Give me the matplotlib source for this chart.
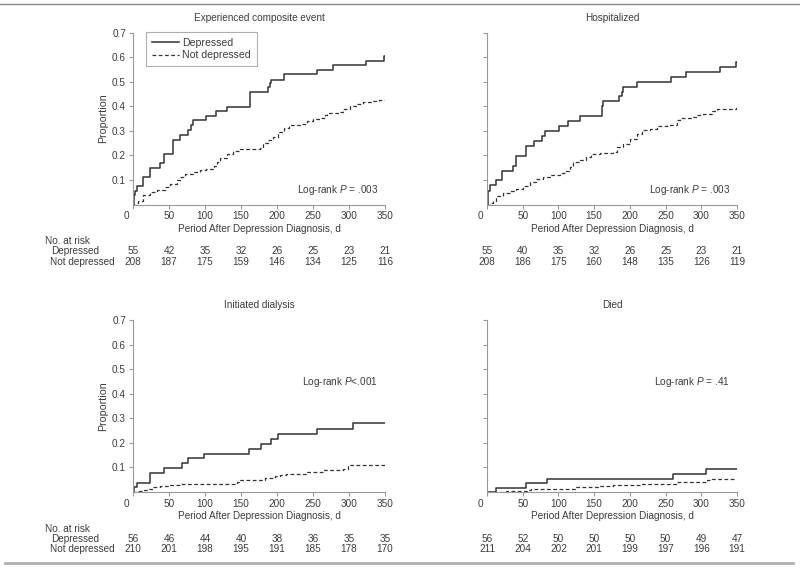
import matplotlib
matplotlib.use("Agg")
import matplotlib.pyplot as plt
import matplotlib.transforms as mtransforms
from matplotlib.lines import Line2D

plt.rcParams['font.family'] = ['Liberation Sans', 'DejaVu Sans']
plt.rcParams['mathtext.fontset'] = 'custom'
plt.rcParams['mathtext.rm'] = 'Liberation Sans'
plt.rcParams['mathtext.it'] = 'Liberation Sans:italic'

# Kaplan-Meier style cumulative proportions
comp_dep_t = [0, 1, 3, 6, 14, 23, 38, 43, 55, 65, 77, 81, 84, 102, 115, 131, 162, 163, 188, 190, 192, 210, 256, 278, 324, 348, 350]
comp_dep_p = [0, 0.037, 0.057, 0.075, 0.112, 0.150, 0.170, 0.207, 0.264, 0.285, 0.302, 0.323, 0.343, 0.360, 0.380, 0.398, 0.418, 0.458, 0.479, 0.496, 0.509, 0.530, 0.547, 0.568, 0.586, 0.605, 0.605]
comp_nd_t = [0, 5, 7, 14, 24, 33, 44, 51, 61, 65, 72, 84, 93, 102, 112, 116, 121, 130, 139, 149,
             160, 176, 181, 188, 195, 202, 210, 216, 232, 241, 250, 260, 267, 269, 288, 292, 301, 311, 320, 334, 341, 350]
comp_nd_p = [0, 0.005, 0.016, 0.037, 0.05, 0.06, 0.071, 0.084, 0.10, 0.112, 0.123, 0.131, 0.139, 0.146, 0.157, 0.173, 0.19, 0.204, 0.218, 0.225,
             0.227, 0.232, 0.25, 0.261, 0.275, 0.296, 0.313, 0.323, 0.327, 0.34, 0.347, 0.354, 0.364, 0.373, 0.376, 0.391, 0.40, 0.411, 0.419, 0.422, 0.425, 0.425]

hosp_dep_t = [0, 1, 2, 4, 13, 21, 37, 41, 54, 66, 77, 81, 101, 114, 130, 161, 163, 185, 189, 191, 210, 258, 279, 326, 348, 350]
hosp_dep_p = [0, 0.037, 0.057, 0.078, 0.098, 0.136, 0.157, 0.197, 0.238, 0.259, 0.279, 0.298, 0.319, 0.339, 0.36, 0.40, 0.422, 0.441, 0.459, 0.479, 0.50, 0.52, 0.541, 0.561, 0.581, 0.581]
hosp_nd_t = [0, 4, 8, 13, 22, 32, 41, 50, 60, 69, 79, 88, 102, 111, 116, 121, 130, 139, 146, 158,
             177, 182, 191, 200, 210, 217, 228, 238, 252, 266, 270, 287, 294, 303, 315, 322, 336, 348, 350]
hosp_nd_p = [0, 0.005, 0.016, 0.033, 0.046, 0.054, 0.064, 0.075, 0.091, 0.105, 0.112, 0.121, 0.129, 0.136, 0.153, 0.173, 0.182, 0.193, 0.204, 0.21,
             0.214, 0.234, 0.248, 0.268, 0.289, 0.302, 0.309, 0.319, 0.325, 0.343, 0.353, 0.357, 0.364, 0.37, 0.381, 0.388, 0.391, 0.394, 0.394]

dial_dep_t = [0, 1, 6, 23, 43, 68, 77, 99, 161, 178, 191, 201, 256, 306, 350]
dial_dep_p = [0, 0.02, 0.037, 0.079, 0.098, 0.118, 0.137, 0.156, 0.177, 0.197, 0.217, 0.238, 0.258, 0.279, 0.279]
dial_nd_t = [0, 5, 12, 21, 28, 38, 51, 65, 126, 144, 149, 183, 197, 204, 213, 227, 241, 264, 278, 292, 299, 350]
dial_nd_p = [0, 0.004, 0.01, 0.014, 0.02, 0.024, 0.027, 0.031, 0.034, 0.041, 0.048, 0.058, 0.064, 0.068, 0.072, 0.075, 0.08, 0.088, 0.091, 0.095, 0.109, 0.109]

died_dep_t = [0, 13, 55, 84, 261, 307, 350]
died_dep_p = [0, 0.018, 0.038, 0.054, 0.075, 0.095, 0.095]
died_nd_t = [0, 20, 27, 41, 58, 62, 123, 156, 177, 214, 245, 264, 308, 315, 350]
died_nd_p = [0, 0.002, 0.004, 0.006, 0.01, 0.012, 0.02, 0.023, 0.027, 0.031, 0.034, 0.041, 0.048, 0.054, 0.054]

# numbers at risk
risk_times = [0, 50, 100, 150, 200, 250, 300, 350]
comp_risk_dep = [55, 42, 35, 32, 26, 25, 23, 21]
comp_risk_nd = [208, 187, 175, 159, 146, 134, 125, 116]
hosp_risk_dep = [55, 40, 35, 32, 26, 25, 23, 21]
hosp_risk_nd = [208, 186, 175, 160, 148, 135, 126, 119]
dial_risk_dep = [56, 46, 44, 40, 38, 36, 35, 35]
dial_risk_nd = [210, 201, 198, 195, 191, 185, 178, 170]
died_risk_dep = [56, 52, 50, 50, 50, 50, 49, 47]
died_risk_nd = [211, 204, 202, 201, 199, 197, 196, 191]

titles = ['Experienced composite event', 'Hospitalized', 'Initiated dialysis', 'Died']
pvals = ['Log-rank $P$ = .003', 'Log-rank $P$ = .003', 'Log-rank $P$<.001', 'Log-rank $P$ = .41']

TXT = '#3c3c3c'
AX = '#9a9a9a'
LINE = '#333333'
FS = 7.2

W, H = 800, 569
fig = plt.figure(figsize=(8, 5.69), dpi=100)

def fx(px):
    return px / W

def fy(py):
    return 1 - py / H

panels = [
    (133, 385, 32.7, 204.5, comp_dep_t, comp_dep_p, comp_nd_t, comp_nd_p, comp_risk_dep, comp_risk_nd, True, 190),
    (487, 737, 32.7, 204.5, hosp_dep_t, hosp_dep_p, hosp_nd_t, hosp_nd_p, hosp_risk_dep, hosp_risk_nd, False, 190),
    (133, 385, 320, 492, dial_dep_t, dial_dep_p, dial_nd_t, dial_nd_p, dial_risk_dep, dial_risk_nd, True, 382),
    (487, 737, 320, 492, died_dep_t, died_dep_p, died_nd_t, died_nd_p, died_risk_dep, died_risk_nd, False, 382),
]

for i, (x0, x1, y0, y1, dt, dp, nt, npv, rdep, rnd, left, pv_y) in enumerate(panels):
    ax = fig.add_axes([fx(x0), fy(y1), (x1 - x0) / W, (y1 - y0) / H])
    ax.step(dt, dp, where='post', color=LINE, lw=1.1, label='Depressed')
    ax.step(nt, npv, where='post', color=LINE, lw=0.9, ls=(0, (3, 2)), label='Not depressed')
    ax.set_xlim(0, 350)
    ax.set_ylim(0, 0.7)
    ax.set_xticks(risk_times)
    ax.set_yticks([0.1, 0.2, 0.3, 0.4, 0.5, 0.6, 0.7])
    for s in ['top', 'right']:
        ax.spines[s].set_visible(False)
    for s in ['left', 'bottom']:
        ax.spines[s].set_color(AX)
        ax.spines[s].set_linewidth(0.8)
    ax.tick_params(colors=AX, labelcolor=TXT, labelsize=FS, length=3, width=0.8, pad=2)
    if left:
        ax.set_yticklabels(['0.1', '0.2', '0.3', '0.4', '0.5', '0.6', '0.7'])
        fig.text(fx(103), fy((y0 + y1) / 2), 'Proportion', rotation=90, ha='center', va='center',
                 fontsize=FS + 0.5, color=TXT)
    else:
        ax.set_yticklabels([])
    # the "0" label sits a little left of the axis corner
    lab0 = ax.get_xticklabels()[0]
    lab0.set_transform(lab0.get_transform() + mtransforms.ScaledTranslation(-7 / 100, 0, fig.dpi_scale_trans))

    fig.text(fx((x0 + x1) / 2), fy(y0 - 15), titles[i], ha='center', va='center', fontsize=FS, color=TXT)
    fig.text(fx((x0 + x1) / 2), fy(y1 + 24), 'Period After Depression Diagnosis, d', ha='center', va='center',
             fontsize=FS, color=TXT)
    fig.text(fx(x1 - 7), fy(pv_y), pvals[i], ha='right', va='center', fontsize=FS, color=TXT)

    tr = mtransforms.blended_transform_factory(ax.transData, fig.transFigure)
    for t, a, b in zip(risk_times, rdep, rnd):
        ax.text(t, fy(y1 + 47), str(a), transform=tr, ha='center', va='center', fontsize=FS, color=TXT, clip_on=False)
        ax.text(t, fy(y1 + 57.5), str(b), transform=tr, ha='center', va='center', fontsize=FS, color=TXT, clip_on=False)
    if left:
        fig.text(fx(45), fy(y1 + 37), 'No. at risk', ha='left', va='center', fontsize=FS, color=TXT)
        fig.text(fx(51), fy(y1 + 47), 'Depressed', ha='left', va='center', fontsize=FS, color=TXT)
        fig.text(fx(50), fy(y1 + 57.5), 'Not depressed', ha='left', va='center', fontsize=FS, color=TXT)

    if i == 0:
        leg = ax.legend(loc='upper left', bbox_to_anchor=(fx(146), fy(32)), bbox_transform=fig.transFigure,
                        fontsize=FS + 0.4, frameon=True, fancybox=False, handlelength=2.6, handletextpad=0.3,
                        labelspacing=0.25, borderpad=0.55, borderaxespad=0)
        leg.get_frame().set_edgecolor(AX)
        leg.get_frame().set_linewidth(0.8)
        for t in leg.get_texts():
            t.set_color(TXT)

# rules at top and bottom of the figure
fig.add_artist(Line2D([0, 1], [fy(4), fy(4)], transform=fig.transFigure, color='#8a8a8a', lw=1.0))
fig.add_artist(Line2D([fx(5), fx(793)], [fy(563), fy(563)], transform=fig.transFigure, color='#b0b0b0', lw=2.0))

fig.savefig('out.png', dpi=100)
